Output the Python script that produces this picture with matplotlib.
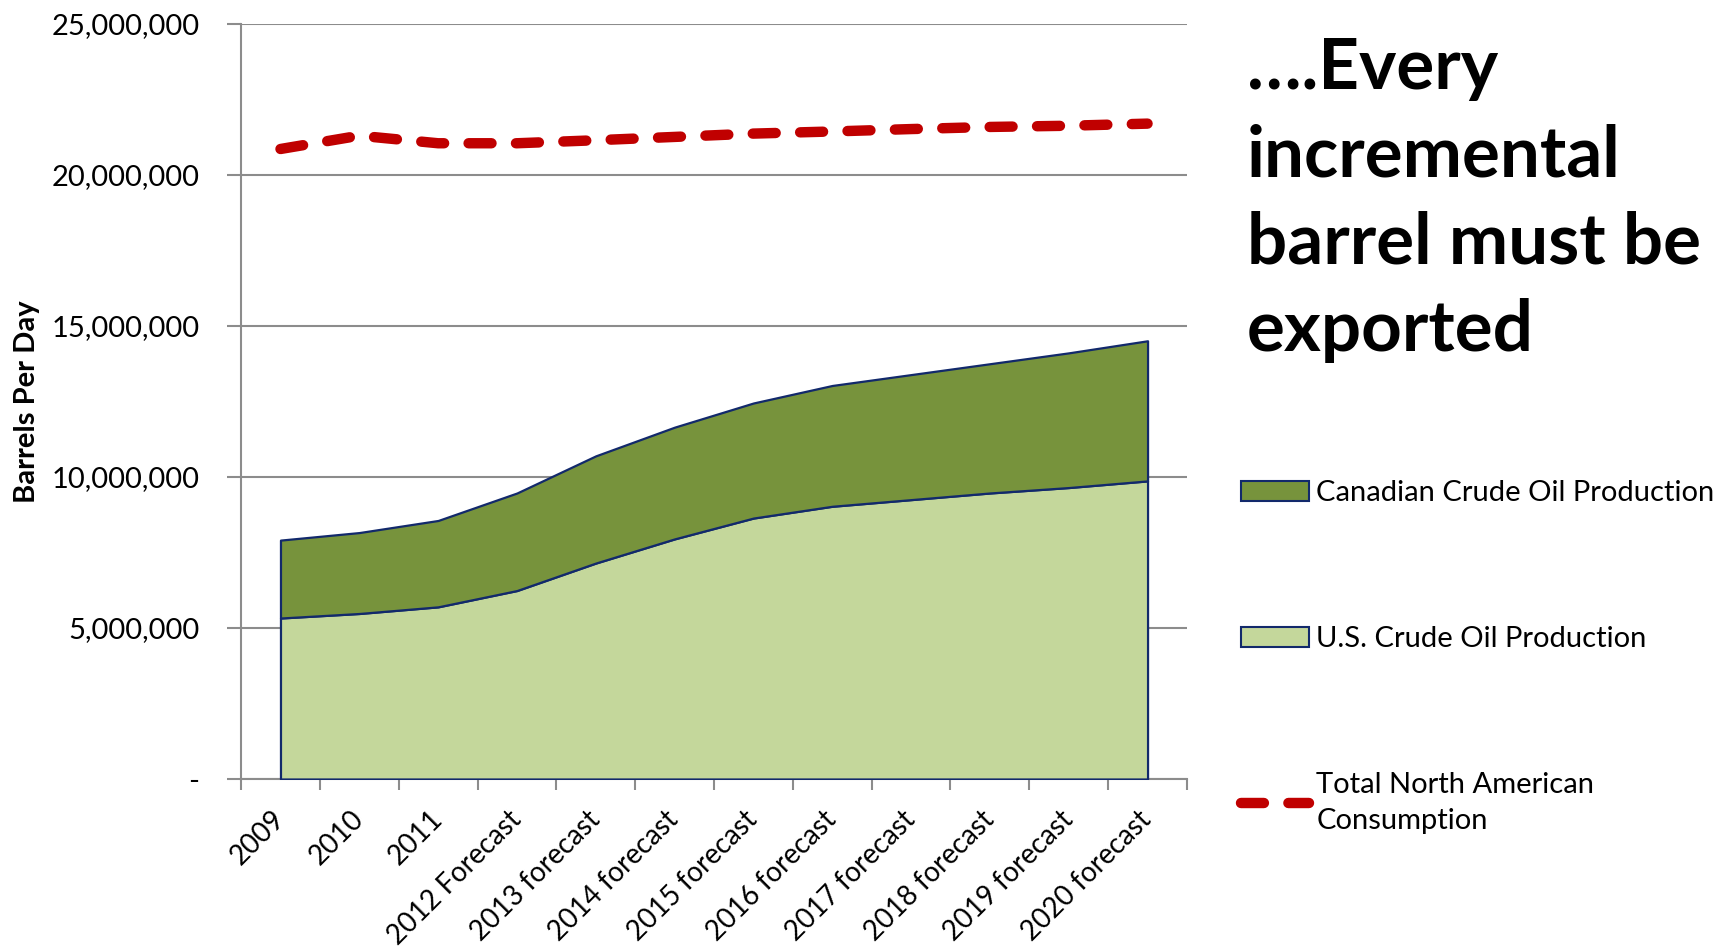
import matplotlib.pyplot as plt
import numpy as np
from matplotlib.lines import Line2D
from matplotlib.patches import Patch
from matplotlib.legend_handler import HandlerLine2D

plt.rcParams['font.family'] = ['Lato', 'DejaVu Sans']

years = ['2009', '2010', '2011', '2012 Forecast', '2013 forecast', '2014 forecast',
         '2015 forecast', '2016 forecast', '2017 forecast', '2018 forecast',
         '2019 forecast', '2020 forecast']
us_production = [5330000, 5480000, 5700000, 6240000, 7150000, 7950000,
                 8640000, 9030000, 9250000, 9470000, 9650000, 9870000]
canada_production = [2580000, 2680000, 2860000, 3230000, 3550000, 3700000,
                      3810000, 4000000, 4140000, 4280000, 4460000, 4640000]
consumption = [20860000, 21300000, 21050000, 21050000, 21150000, 21260000,
               21370000, 21440000, 21520000, 21590000, 21630000, 21700000]

us_color = '#c4d79b'
canada_color = '#77933c'
edge_color = '#12296b'
red = '#c00000'
grid_gray = '#8c8c8c'
dash_pattern = (2.2, 2.35)

x = np.arange(len(years))

fig = plt.figure(figsize=(17.17, 9.47), dpi=100)
ax = fig.add_axes([0.1404, 0.1774, 0.5509, 0.7973])

ax.stackplot(x, us_production, canada_production,
             colors=[us_color, canada_color], edgecolor=edge_color, linewidth=1.6, zorder=3)
ax.plot(x, consumption, color=red, linewidth=7.5, dashes=dash_pattern,
        dash_capstyle='round', solid_capstyle='round', zorder=4)

ax.set_xlim(-0.5, len(years) - 0.5)
ax.set_ylim(0, 25000000)

yticks = np.arange(0, 25000001, 5000000)
ax.set_yticks(yticks)
ax.set_yticklabels(['-' if v == 0 else f'{v:,}' for v in yticks], fontsize=21)
ax.tick_params(axis='y', length=10, width=1.5, color=grid_gray, pad=20)
ax.grid(axis='y', color=grid_gray, linewidth=1.5, zorder=0)
ax.set_axisbelow(True)

ax.set_xticks(x)
ax.set_xticklabels(years, rotation=45, ha='right', va='center',
                   rotation_mode='anchor', fontsize=20)
ax.tick_params(axis='x', which='major', length=0, pad=26)
ax.set_xticks(np.arange(-0.5, len(years), 1.0), minor=True)
ax.tick_params(axis='x', which='minor', length=8, width=1.5, color=grid_gray)

for side in ['top', 'right']:
    ax.spines[side].set_visible(False)
for side in ['left', 'bottom']:
    ax.spines[side].set_color(grid_gray)
    ax.spines[side].set_linewidth(1.5)

ax.set_ylabel('Barrels Per Day', fontsize=21, fontweight='bold', labelpad=8)

handles = [Patch(facecolor=canada_color, edgecolor=edge_color, linewidth=1.5),
           Patch(facecolor=us_color, edgecolor=edge_color, linewidth=1.5),
           Line2D([], [], color=red, linewidth=7.5, dashes=dash_pattern,
                  dash_capstyle='round')]
labels = ['Canadian Crude Oil Production', 'U.S. Crude Oil Production',
          'Total North American\nConsumption']
leg = fig.legend(handles, labels, loc='upper left', bbox_to_anchor=(0.716, 0.505),
                 frameon=False, fontsize=21, handlelength=2.33, handleheight=0.7,
                 handletextpad=0.25, labelspacing=4.1, borderaxespad=0,
                 handler_map={handles[2]: HandlerLine2D(ypad=1.35)})
for t in leg.get_texts():
    t.set_linespacing(1.5)

fig.text(0.726, 0.962, '….Every\nincremental\nbarrel must be\nexported',
         fontsize=51, fontweight='bold', va='top', ha='left', linespacing=1.42)

fig.savefig('out.png', dpi=100)
